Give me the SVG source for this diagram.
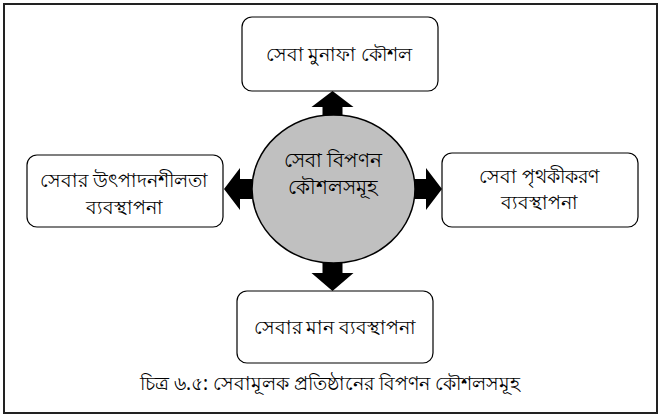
<svg xmlns="http://www.w3.org/2000/svg" width="662" height="417" viewBox="0 0 662 417">
<style>
.box{fill:#fff;stroke:#000;stroke-width:1.2}
.hub{fill:#c0c0c0;stroke:#000;stroke-width:1.5}
.arr{fill:#000}
text{font-family:"Noto Sans","DejaVu Sans",sans-serif;fill:#000;text-anchor:middle}
.t{font-size:18.5px}
.c{font-size:19.5px}
.cap{font-size:19px}
</style>
<rect x="0" y="0" width="662" height="417" fill="#fff"/>
<rect x="4" y="4" width="653" height="409" fill="none" stroke="#222" stroke-width="2"/>
<g id="connectors">
<polygon class="arr" points="332.5,91 353.5,107 342.5,107 342.5,125 322.5,125 322.5,107 311.5,107"/>
<polygon class="arr" points="332.5,291 353.5,273 342.5,273 342.5,255 322.5,255 322.5,273 311.5,273"/>
<polygon class="arr" points="224,189 240,168 240,179 262,179 262,199 240,199 240,210"/>
<polygon class="arr" points="442,189 426,168 426,179 404,179 404,199 426,199 426,210"/>
</g>
<g id="hub">
<ellipse class="hub" cx="333.5" cy="189" rx="81.5" ry="74"/>
<text class="c" x="333" y="167">সেবা বিপণন</text>
<text class="c" x="333" y="194">কৌশলসমূহ</text>
</g>
<g id="top">
<rect class="box" x="242" y="17" width="196" height="74" rx="10"/>
<text class="t" x="339" y="61">সেবা মুনাফা কৌশল</text>
</g>
<g id="left">
<rect class="box" x="27" y="155" width="196" height="72" rx="10"/>
<text class="t" x="124" y="187">সেবার উৎপাদনশীলতা</text>
<text class="t" x="124" y="214">ব্যবস্থাপনা</text>
</g>
<g id="right">
<rect class="box" x="442" y="153" width="196" height="74" rx="10"/>
<text class="t" x="539" y="183">সেবা পৃথকীকরণ</text>
<text class="t" x="539" y="209">ব্যবস্থাপনা</text>
</g>
<g id="bottom">
<rect class="box" x="237" y="291" width="196" height="72" rx="10"/>
<text class="t" x="335" y="334">সেবার মান ব্যবস্থাপনা</text>
</g>
<text class="cap" x="330" y="390">চিত্র ৬.৫: সেবামূলক প্রতিষ্ঠানের বিপণন কৌশলসমূহ</text>
</svg>
